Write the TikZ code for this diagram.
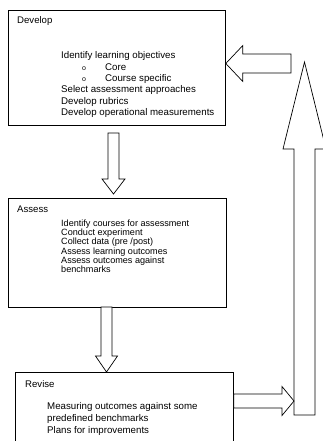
\documentclass[tikz,border=0pt]{standalone}
\usepackage{fontspec}
\setmainfont{Liberation Sans}
\usepackage{tikz}
\usetikzlibrary{calc}

\newcommand{\bul}{\hspace*{21pt}\makebox[23pt][l]{\fontsize{7}{7}\selectfont o}}
\newcommand{\blockarrow}[5]{%
  \coordinate (hb) at ($#2!#5!#1$);
  \draw[barrow] ($#1!#3!90:#2$) -- ($(hb)!#3!90:#2$) -- ($(hb)!#4!90:#2$) -- #2
    -- ($(hb)!#4!-90:#2$) -- ($(hb)!#3!-90:#2$) -- ($#1!#3!-90:#2$) -- cycle;}

\begin{document}
\begin{tikzpicture}[x=1pt, y=-1pt,
    box/.style={draw, line width=0.8pt, inner sep=0pt, anchor=north west},
    title/.style={anchor=base west, inner sep=0pt, font=\fontsize{9.6}{11}\selectfont},
    body/.style={anchor=north west, inner sep=0pt, align=left},
    barrow/.style={draw, line width=0.7pt, fill=white, line join=miter}]
    \useasboundingbox (0,0) rectangle (323,441);
    \clip (0,0) rectangle (323,441);

    \node[box, minimum width=217pt, minimum height=115pt] (dev) at (8,10){};
    \node[box, minimum width=218pt, minimum height=109pt] (ass) at (8,198){};
    \node[box, minimum width=218pt, minimum height=80pt] (rev) at (15,372){};

    \node[title] (devt) at (17,23.5){Develop};
    \node[title] (asst) at (17,212){Assess};
    \node[title] (revt) at (25,387){Revise};

    \node[body, font=\fontsize{9.7}{11.4}\selectfont] (devb) at (61,51.5){Identify learning objectives\\
      \bul Core\\
      \bul Course specific\\
      Select assessment approaches\\
      Develop rubrics\\
      Develop operational measurements};
    \node[body, font=\fontsize{9.1}{9.3}\selectfont] (assb) at (61,219.5){Identify courses for assessment\\
      Conduct experiment\\
      Collect data (pre /post)\\
      Assess learning outcomes\\
      Assess outcomes against\\
      benchmarks};
    \node[body, font=\fontsize{9.7}{12}\selectfont] (revb) at (47,402.5){Measuring outcomes against some\\
      predefined benchmarks\\
      Plans for improvements};

    \coordinate (l0) at (291,63.5);
    \coordinate (l1) at (dev.east |- l0);
    \coordinate (d0) at (113.5,133);
    \coordinate (d1) at (113.5,194);
    \coordinate (a0) at (106.5,307);
    \coordinate (a1) at (rev.north -| a0);
    \coordinate (u0) at (304.5,415);
    \coordinate (u1) at (304.5,62);
    \coordinate (r0) at (rev.east |- 0,401);
    \coordinate (r1) at (294,401);

    \blockarrow{(u0)}{(u1)}{10.5pt}{21.5pt}{87pt}
    \blockarrow{(l0)}{(l1)}{9.5pt}{18pt}{17pt}
    \blockarrow{(d0)}{(d1)}{5.5pt}{11.5pt}{15pt}
    \blockarrow{(a0)}{(a1)}{5.5pt}{11pt}{16pt}
    \blockarrow{(r0)}{(r1)}{7pt}{14.5pt}{12pt}
\end{tikzpicture}
\end{document}
